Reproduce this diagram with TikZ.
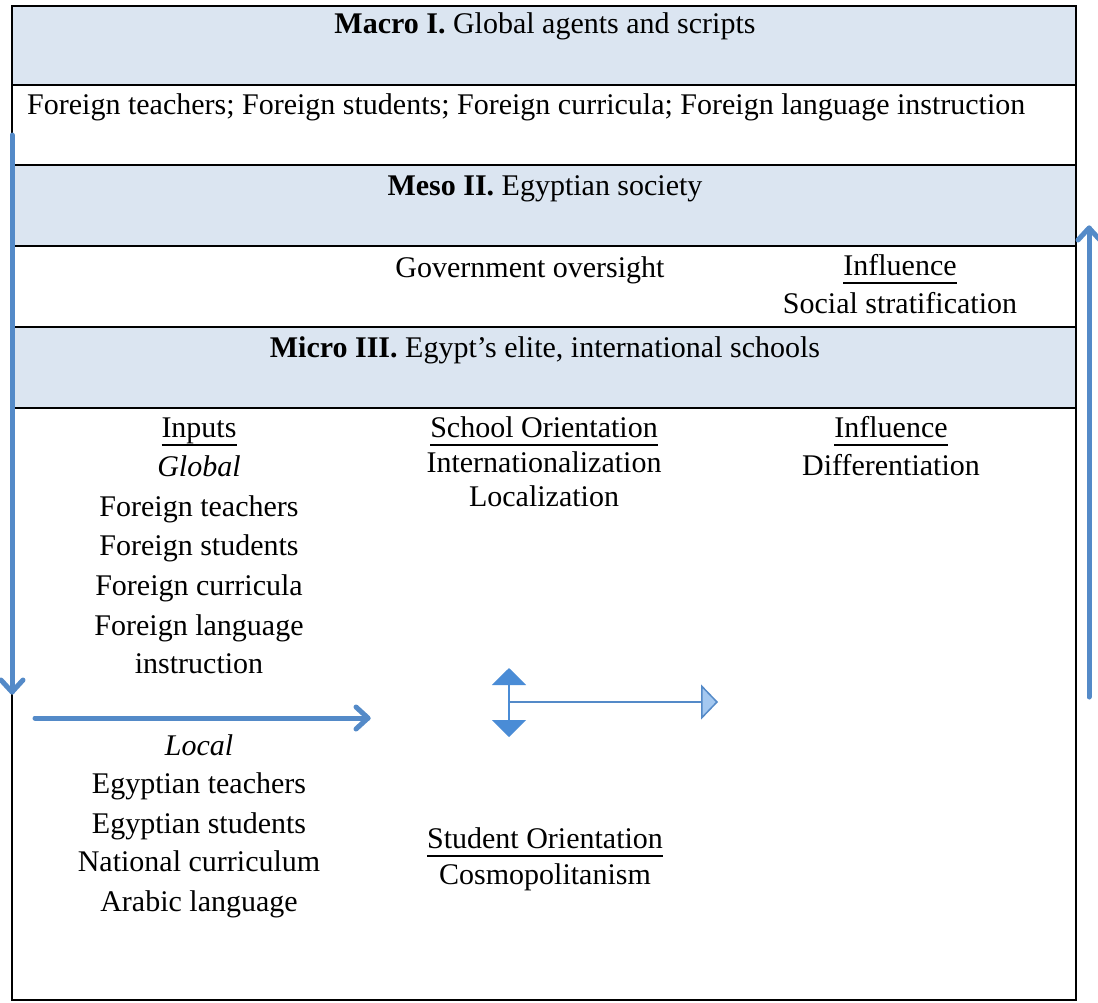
\documentclass[tikz,border=0pt]{standalone}
\usepackage{fontspec}
\setmainfont{Liberation Serif}
\usetikzlibrary{arrows.meta,calc}

\definecolor{bandfill}{RGB}{219,229,241}
\definecolor{flowblue}{RGB}{84,138,200}
\definecolor{tipblue}{RGB}{74,140,214}
\definecolor{paleblue}{RGB}{164,200,240}

% underline drawn at a fixed depth below the baseline
\newcommand\ulword[1]{\setbox0\hbox{#1}\rlap{\rule[-8.5pt]{\wd0}{1.8pt}}\box0}

\tikzset{
  txt/.style={anchor=base, inner sep=0pt, font=\fontsize{30}{39}\selectfont},
  band/.style={fill=bandfill, draw=black, line width=1.6pt},
  rowline/.style={draw=black, line width=1.6pt},
  flow/.style={draw=flowblue, line width=5pt, line cap=round, line join=round},
  swing/.style={draw=tipblue, line width=2pt,
    {Triangle[length=17pt,width=34pt,fill=tipblue]}-{Triangle[length=17pt,width=34pt,fill=tipblue]}},
  push/.style={draw=flowblue, line width=2.5pt,
    -{Triangle[length=17pt,width=35pt,fill=paleblue,line width=1.5pt]}}
}

\begin{document}
\begin{tikzpicture}[x=1pt,y=-1pt]
\useasboundingbox (0,0) rectangle (1098,1002);

% table bands
\fill[white] (12,6) rectangle (1076,1000);
\draw[band] (12,6) rectangle (1076,85);
\draw[band] (12,165) rectangle (1076,246);
\draw[band] (12,327) rectangle (1076,408);
\draw[rowline] (12,6) rectangle (1076,1000);

% Macro level
\node[txt] (macro) at (545,33) {\textbf{Macro I.} Global agents and scripts};
\node[txt, anchor=base west] (foreign) at (27,114) {Foreign teachers; Foreign students; Foreign curricula; Foreign language instruction};

% Meso level
\node[txt] (meso) at (545,195) {\textbf{Meso II.} Egyptian society};
\node[txt] (gov) at (530,277) {Government oversight};
\node[txt] (infl1) at (900,275) {\ulword{Influence}};
\node[txt] (strat) at (900,313) {Social stratification};

% Micro level
\node[txt] (micro) at (545,357) {\textbf{Micro III.} Egypt’s elite, international schools};

% inputs column
\node[txt] (inputs) at (199,437) {\ulword{Inputs}};
\node[txt] (global) at (199,476) {\textit{Global}};
\node[txt] (ft) at (199,516) {Foreign teachers};
\node[txt] (fs) at (199,555) {Foreign students};
\node[txt] (fc) at (199,595) {Foreign curricula};
\node[txt] (fl) at (199,635) {Foreign language};
\node[txt] (fi) at (199,673) {instruction};
\node[txt] (local) at (199,755) {\textit{Local}};
\node[txt] (et) at (199,793) {Egyptian teachers};
\node[txt] (es) at (199,833) {Egyptian students};
\node[txt] (nc) at (199,871) {National curriculum};
\node[txt] (al) at (199,911) {Arabic language};

% orientation column
\node[txt] (school) at (544,437) {\ulword{School Orientation}};
\node[txt] (intl) at (544,472) {Internationalization};
\node[txt] (loc) at (544,506) {Localization};
\node[txt] (student) at (545,848) {\ulword{Student Orientation}};
\node[txt] (cosmo) at (545,884) {Cosmopolitanism};

% influence column
\node[txt] (infl2) at (891,437) {\ulword{Influence}};
\node[txt] (diff) at (891,475) {Differentiation};

% flows between levels, each ending in an open chevron
\coordinate (downA) at (12,135);
\coordinate (downB) at (12,692);
\coordinate (acrossA) at (35,718);
\coordinate (acrossB) at (368,718);
\coordinate (upA) at (1089,697);
\coordinate (upB) at (1089,228);
\draw[flow] (downA) -- (downB);
\draw[flow] ($(downB)+(-11,-12)$) -- (downB) -- ($(downB)+(11,-12)$);
\draw[flow] (acrossA) -- (acrossB);
\draw[flow] ($(acrossB)+(-12,-11)$) -- (acrossB) -- ($(acrossB)+(-12,11)$);
\draw[flow] (upA) -- (upB);
\draw[flow] ($(upB)+(-11,12)$) -- (upB) -- ($(upB)+(11,12)$);

% orientation switch and its push to the right
\coordinate (swTop) at (509,668);
\coordinate (swBot) at (509,737);
\coordinate (pushA) at (509,702);
\coordinate (pushB) at (718,702);
\draw[swing] (swTop) -- (swBot);
\draw[push] (pushA) -- (pushB);
\end{tikzpicture}
\end{document}
